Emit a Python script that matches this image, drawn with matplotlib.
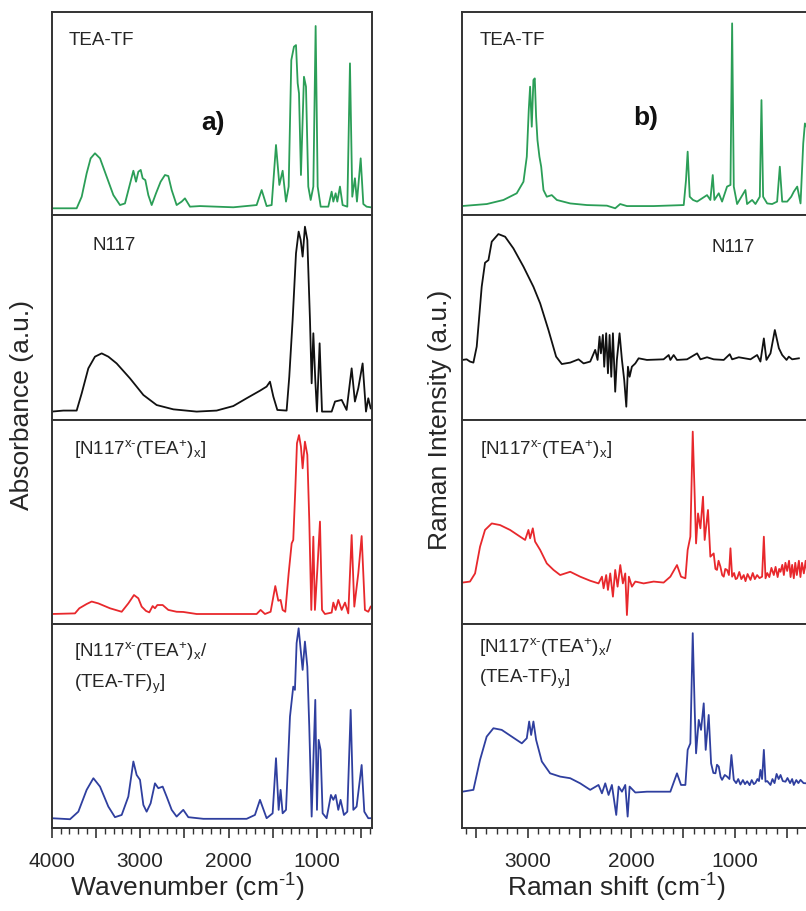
import matplotlib
matplotlib.use("Agg")
import matplotlib.pyplot as plt
from matplotlib.ticker import MultipleLocator, FuncFormatter

plt.rcParams["font.family"] = ["Liberation Sans", "DejaVu Sans"]
plt.rcParams["mathtext.fontset"] = "custom"
plt.rcParams["mathtext.rm"] = "Liberation Sans"
plt.rcParams["mathtext.it"] = "Liberation Sans"
plt.rcParams["mathtext.bf"] = "Liberation Sans:bold"

# ---------------- FTIR spectra (wavenumber, absorbance a.u.) ----------------
ir_tea_tf_wn = [4000, 3718, 3661, 3605, 3560, 3511, 3454, 3379, 3303, 3228, 3172, 3123, 3077, 3047,
                3021, 2994, 2972, 2942, 2908, 2870, 2821, 2769, 2720, 2682, 2644, 2588, 2531, 2494,
                2437, 2324, 1947, 1684, 1627, 1571, 1514, 1465, 1427, 1390, 1352, 1322, 1292, 1262,
                1239, 1220, 1205, 1183, 1149, 1126, 1100, 1073, 1043, 1017, 994, 960, 874, 836, 817,
                791, 772, 742, 712, 659, 629, 603, 573, 550, 508, 478, 441, 395]
ir_tea_tf_abs = [3.3, 3.3, 9.0, 20.5, 27.9, 30.4, 27.9, 18.9, 9.8, 4.9, 5.7, 14.0, 21.8, 16.4,
                 21.3, 22.2, 18.1, 17.2, 9.8, 4.9, 10.7, 16.4, 19.7, 19.2, 12.3, 4.9, 6.6, 8.2,
                 4.1, 4.4, 3.8, 4.9, 12.3, 4.4, 4.9, 34.5, 14.8, 21.8, 6.6, 14.0, 76.3, 82.9,
                 83.7, 64.9, 59.9, 19.7, 68.1, 63.2, 14.0, 7.4, 14.0, 93.1, 14.0, 4.1, 4.1, 11.5, 6.6,
                 10.7, 6.6, 14.0, 4.9, 4.1, 74.7, 9.0, 18.1, 6.6, 27.9, 5.4, 4.1, 3.8]

ir_n117_wn = [4000, 3868, 3718, 3661, 3586, 3511, 3435, 3360, 3266, 3115, 2964, 2814, 2625, 2362,
              2136, 1948, 1797, 1646, 1571, 1533, 1495, 1450, 1345, 1315, 1277, 1239, 1209, 1186,
              1164, 1138, 1111, 1081, 1062, 1043, 1021, 1002, 972, 945, 836, 798, 723, 667, 610,
              573, 535, 486, 448, 422, 395]
ir_n117_abs = [4.1, 4.6, 4.6, 13.0, 25.2, 30.9, 32.5, 30.9, 27.6, 20.3, 12.2, 7.3, 5.2, 4.1,
               4.6, 6.8, 10.6, 14.3, 16.3, 18.7, 11.4, 4.9, 4.6, 21.1, 48.8, 81.3, 91.9, 87.8,
               79.7, 94.3, 87.8, 48.8, 17.9, 42.3, 19.5, 4.1, 37.4, 4.1, 4.1, 9.0, 9.8, 4.9, 25.2,
               9.0, 15.5, 27.6, 4.1, 10.6, 5.7]

ir_salt_wn = [4000, 3737, 3688, 3605, 3548, 3473, 3341, 3209, 3134, 3070, 3021, 2983, 2934, 2897,
              2859, 2833, 2806, 2746, 2682, 2588, 2513, 2362, 1684, 1639, 1590, 1526, 1473, 1439,
              1413, 1390, 1360, 1322, 1288, 1270, 1247, 1228, 1205, 1183, 1164, 1138, 1111, 1089,
              1066, 1043, 1025, 998, 968, 945, 912, 836, 817, 791, 761, 723, 685, 648, 610, 580,
              535, 497, 460, 422, 395]
ir_salt_abs = [4.9, 5.2, 7.7, 9.8, 11.0, 10.1, 7.7, 6.0, 10.1, 14.2, 12.6, 8.5, 6.4, 5.7,
               8.8, 7.7, 9.3, 9.3, 6.9, 6.0, 5.9, 4.9, 4.9, 6.9, 4.9, 6.0, 18.6, 11.4,
               11.8, 6.9, 6.0, 24.8, 39.5, 41.2, 65.7, 88.6, 92.6, 86.9, 76.3, 89.4, 82.9, 51.0,
               6.9, 42.8, 6.9, 26.5, 50.2, 6.9, 4.9, 5.6, 10.5, 6.9, 11.8, 6.9, 10.5, 5.2, 43.6, 8.5,
               24.8, 43.1, 6.9, 6.0, 8.5]

ir_blend_wn = [4000, 3793, 3699, 3605, 3529, 3454, 3360, 3285, 3209, 3134, 3077, 3040, 3002, 2964,
               2927, 2882, 2833, 2795, 2746, 2701, 2644, 2588, 2513, 2456, 2286, 1797, 1703, 1646,
               1571, 1503, 1465, 1435, 1413, 1390, 1352, 1307, 1270, 1251, 1232, 1209, 1186, 1164,
               1138, 1111, 1089, 1062, 1040, 1021, 1002, 983, 961, 938, 893, 844, 817, 791, 761,
               735, 697, 659, 621, 591, 554, 497, 467, 422, 395]
ir_blend_abs = [4.8, 4.3, 8.0, 18.7, 24.4, 20.3, 10.5, 5.3, 6.4, 15.4, 32.6, 26.0, 23.6, 11.3,
                8.0, 12.1, 21.9, 19.5, 20.3, 15.4, 8.9, 5.6, 8.9, 5.3, 4.5, 4.5, 6.4, 13.8,
                4.8, 7.2, 34.2, 8.9, 18.7, 7.2, 8.9, 54.6, 69.3, 67.7, 90.6, 97.9, 87.3, 77.5,
                91.4, 79.1, 49.7, 5.6, 36.6, 62.8, 8.9, 43.2, 38.3, 7.2, 4.8, 16.2, 13.8, 16.2, 8.9,
                13.8, 6.4, 8.0, 57.9, 8.9, 10.5, 30.9, 8.0, 4.8, 4.8]

# ---------------- Raman spectra (Raman shift, intensity a.u.) ----------------
ra_tea_tf_wn = [3638, 3396, 3235, 3107, 3042, 3010, 2991, 2978, 2962, 2946, 2933, 2920, 2907, 2888,
                2871, 2849, 2817, 2769, 2720, 2591, 2430, 2237, 2157, 2109, 2044, 1786, 1496, 1474,
                1458, 1438, 1406, 1367, 1319, 1271, 1239, 1216, 1200, 1158, 1126, 1078, 1045, 1029,
                1013, 981, 901, 885, 836, 804, 762, 746, 730, 691, 643, 595, 569, 546, 498, 459,
                434, 401, 369, 343, 327, 311, 290]
ra_tea_tf_int = [4.4, 5.4, 7.4, 10.7, 16.4, 28.7, 51.7, 63.2, 43.5, 66.5, 67.3, 48.4, 36.9, 28.7,
                 23.8, 12.3, 9.0, 9.8, 7.4, 5.7, 4.9, 4.6, 3.3, 5.4, 4.4, 4.4, 4.9, 17.2,
                 31.2, 9.0, 7.4, 6.6, 8.2, 9.8, 7.4, 19.7, 7.4, 10.7, 6.6, 14.0, 14.8, 94.4,
                 14.0, 5.4, 12.3, 5.4, 7.4, 5.4, 9.0, 56.6, 9.0, 5.7, 5.4, 6.6, 23.8, 6.6, 6.6, 9.0,
                 11.5, 14.0, 5.7, 35.3, 45.1, 43.5, 40.0]

ra_n117_wn = [3632, 3590, 3558, 3525, 3493, 3445, 3413, 3380, 3348, 3284, 3219, 3139, 3042, 2946,
              2881, 2801, 2727, 2672, 2591, 2511, 2462, 2398, 2350, 2327, 2308, 2295, 2276, 2263,
              2244, 2227, 2211, 2195, 2179, 2157, 2141, 2115, 2092, 2070, 2050, 2034, 2018, 1996,
              1963, 1931, 1851, 1690, 1641, 1625, 1593, 1561, 1464, 1367, 1335, 1271, 1207, 1110,
              1052, 1029, 965, 852, 788, 756, 723, 698, 659, 617, 578, 546, 504, 482, 450, 385]
ra_n117_int = [29.3, 29.6, 28.5, 28.0, 35.8, 65.0, 76.7, 78.0, 87.0, 90.7, 89.4, 83.7, 74.8, 65.0,
               56.9, 43.9, 30.9, 27.3, 28.0, 29.6, 27.6, 28.5, 34.2, 29.3, 40.7, 32.5, 41.5, 26.0,
               42.3, 22.8, 41.5, 21.1, 42.3, 13.8, 29.3, 42.3, 29.3, 19.5, 6.5, 26.0, 21.1, 26.0,
               27.6, 30.1, 29.3, 29.6, 31.7, 29.3, 31.7, 29.3, 29.6, 32.5, 29.6, 30.6, 29.6, 29.3,
               32.1, 29.6, 30.6, 29.6, 31.7, 28.5, 39.8, 29.3, 32.5, 43.9, 35.0, 31.7, 29.3, 30.9,
               29.6, 30.1]

ra_salt_wn = [3632, 3558, 3509, 3461, 3413, 3348, 3268, 3171, 3074, 3026, 2994, 2978, 2952, 2930,
              2881, 2817, 2752, 2688, 2591, 2495, 2398, 2318, 2285, 2269, 2244, 2227, 2205, 2179,
              2157, 2134, 2108, 2083, 2060, 2044, 2025, 1996, 1963, 1883, 1786, 1690, 1625, 1561,
              1522, 1480, 1458, 1432, 1409, 1390, 1377, 1358, 1335, 1310, 1294, 1262, 1239, 1207,
              1190, 1175, 1160, 1142, 1125, 1110, 1095, 1078, 1060, 1045, 1029, 1010, 995, 981,
              960, 940, 917, 900, 880, 852, 830, 810, 788, 765, 740, 723, 707, 690, 670, 650,
              627, 610, 590, 575, 562, 545, 530, 515, 498, 480, 465, 450, 434, 420, 405, 385,
              370, 355, 337, 320, 305, 290]
ra_salt_int = [20.3, 20.8, 24.8, 37.9, 46.1, 49.3, 48.5, 46.1, 42.8, 41.2, 46.1, 42.0, 46.9, 40.4,
               36.3, 29.7, 26.5, 24.0, 25.6, 23.2, 21.2, 19.9, 23.2, 17.5, 24.0, 16.7, 24.8, 13.4,
               26.5, 18.3, 28.9, 19.9, 24.8, 4.4, 23.2, 18.3, 20.8, 19.9, 20.8, 20.3, 23.2, 28.9,
               23.2, 22.4, 36.3, 42.8, 94.3, 62.4, 39.5, 54.2, 46.9, 62.4, 41.2, 55.9, 33.0, 34.6,
               27.0, 26.5, 31.0, 28.1, 24.0, 23.2, 27.0, 26.5, 24.0, 37.1, 23.2, 25.0, 22.0, 22.4,
               25.5, 22.0, 24.0, 21.0, 24.5, 21.6, 25.0, 22.0, 24.0, 22.5, 23.2, 42.8, 22.4, 25.0,
               23.0, 27.5, 24.0, 28.0, 23.0, 27.0, 25.6, 29.0, 24.0, 30.0, 26.0, 31.0, 23.0, 29.0,
               22.4, 30.0, 24.0, 31.0, 23.0, 30.0, 24.8, 31.0, 25.0, 28.0]

ra_blend_wn = [3632, 3525, 3461, 3397, 3332, 3252, 3155, 3058, 3010, 2987, 2968, 2946, 2920, 2865,
               2785, 2688, 2591, 2495, 2398, 2318, 2285, 2253, 2221, 2189, 2147, 2124, 2092, 2060,
               2037, 2018, 1963, 1851, 1625, 1561, 1522, 1480, 1458, 1432, 1409, 1390, 1377, 1351,
               1329, 1303, 1284, 1255, 1232, 1210, 1190, 1175, 1158, 1140, 1126, 1100, 1078, 1055,
               1036, 1013, 990, 970, 949, 925, 905, 884, 860, 840, 820, 804, 785, 770, 756, 740,
               723, 707, 690, 659, 640, 620, 600, 580, 562, 540, 514, 495, 470, 450, 434, 410,
               390, 369, 340, 311, 290]
ra_blend_int = [17.8, 18.7, 33.4, 44.8, 48.9, 48.1, 44.8, 41.5, 44.0, 52.2, 45.6, 52.2, 43.2, 32.6,
                26.8, 25.2, 24.4, 21.9, 18.7, 21.1, 17.0, 21.9, 16.2, 21.1, 6.4, 20.3, 17.8, 21.1,
                5.6, 20.3, 17.4, 17.8, 17.8, 26.8, 21.1, 21.1, 38.3, 41.5, 95.5, 57.9, 36.6, 53.0,
                48.1, 61.1, 38.3, 55.4, 31.7, 27.0, 26.8, 31.0, 30.1, 25.0, 23.6, 26.0, 25.2, 24.0,
                35.8, 23.6, 22.0, 24.0, 21.3, 23.5, 21.5, 22.9, 21.0, 23.5, 21.5, 22.1, 24.0, 23.0,
                28.5, 24.0, 38.3, 22.7, 23.0, 21.1, 24.0, 22.0, 26.5, 24.0, 26.0, 23.0, 22.7, 24.5,
                22.0, 24.0, 21.1, 23.5, 22.0, 23.6, 22.0, 21.9, 22.5]

GREEN = "#2b9e57"
BLACK = "#111111"
RED = "#e8282c"
BLUE = "#2f3f9f"
TXT = "#262626"

ir_sets = [(ir_tea_tf_wn, ir_tea_tf_abs, GREEN), (ir_n117_wn, ir_n117_abs, BLACK),
           (ir_salt_wn, ir_salt_abs, RED), (ir_blend_wn, ir_blend_abs, BLUE)]
ra_sets = [(ra_tea_tf_wn, ra_tea_tf_int, GREEN), (ra_n117_wn, ra_n117_int, BLACK),
           (ra_salt_wn, ra_salt_int, RED), (ra_blend_wn, ra_blend_int, BLUE)]

W, H = 806, 911
fig = plt.figure(figsize=(W / 100, H / 100), dpi=100)

# panel frames in pixel rows (top, bottom)
rows = [(12, 215), (215, 420), (420, 624), (624, 828)]
left_cols = (51.7, 372.0)
right_cols = (462.0, 830.5)


def make_axes(cols, top, bottom):
    x0, x1 = cols
    return fig.add_axes([x0 / W, (H - bottom) / H, (x1 - x0) / W, (bottom - top) / H])


def style(ax, xlim, bottom_row):
    ax.set_xlim(*xlim)
    ax.set_ylim(0, 100)
    ax.set_yticks([])
    for s in ax.spines.values():
        s.set_color("#333333")
        s.set_linewidth(1.4)
    if bottom_row:
        ax.xaxis.set_major_locator(MultipleLocator(500))
        ax.xaxis.set_minor_locator(MultipleLocator(100))
        ax.xaxis.set_major_formatter(
            FuncFormatter(lambda v, p: f"{int(v)}" if int(round(v)) % 1000 == 0 else ""))
        ax.tick_params(axis="x", which="major", direction="out", length=7, width=1.2,
                       colors="#333333", labelsize=15, labelcolor=TXT, pad=10)
        ax.tick_params(axis="x", which="minor", direction="out", length=4, width=1.0,
                       colors="#333333")
    else:
        ax.set_xticks([])


ir_axes, ra_axes = [], []
for i, (top, bottom) in enumerate(rows):
    axl = make_axes(left_cols, top, bottom)
    wn, y, c = ir_sets[i]
    axl.plot(wn, y, color=c, lw=1.3)
    style(axl, (4000, 380), i == 3)
    ir_axes.append(axl)

    axr = make_axes(right_cols, top, bottom)
    wn, y, c = ra_sets[i]
    axr.plot(wn, y, color=c, lw=1.3)
    style(axr, (3635, 80), i == 3)
    ra_axes.append(axr)

lab = dict(fontsize=13.5, color=TXT, va="baseline", ha="left")
salt = r"$\mathregular{[N117^{x\text{-}}(TEA^{+})_{x}]}$"
blend1 = r"$\mathregular{[N117^{x\text{-}}(TEA^{+})_{x}/}$"
blend2 = r"$\mathregular{(TEA\text{-}TF)_{y}]}$"

ir_axes[0].text(0.054, 0.835, "TEA-TF", transform=ir_axes[0].transAxes, **lab)
ir_axes[0].text(0.504, 0.453, "a)", transform=ir_axes[0].transAxes, fontsize=19,
                fontweight="bold", ha="center", va="center", color="#111111")
ir_axes[1].text(0.126, 0.829, "N117", transform=ir_axes[1].transAxes, **lab)
ir_axes[2].text(0.070, 0.828, salt, transform=ir_axes[2].transAxes, **lab)
ir_axes[3].text(0.070, 0.838, blend1, transform=ir_axes[3].transAxes, **lab)
ir_axes[3].text(0.070, 0.686, blend2, transform=ir_axes[3].transAxes, **lab)

ra_axes[0].text(0.049, 0.835, "TEA-TF", transform=ra_axes[0].transAxes, **lab)
ra_axes[0].text(0.499, 0.478, "b)", transform=ra_axes[0].transAxes, fontsize=19,
                fontweight="bold", ha="center", va="center", color="#111111")
ra_axes[1].text(0.678, 0.820, "N117", transform=ra_axes[1].transAxes, **lab)
ra_axes[2].text(0.049, 0.828, salt, transform=ra_axes[2].transAxes, **lab)
ra_axes[3].text(0.046, 0.858, blend1, transform=ra_axes[3].transAxes, **lab)
ra_axes[3].text(0.046, 0.711, blend2, transform=ra_axes[3].transAxes, **lab)

fig.text(22 / W, 1 - 405 / H, "Absorbance (a.u.)", rotation=90, ha="center", va="center",
         fontsize=19, color=TXT)
fig.text(440 / W, 1 - 420 / H, "Raman Intensity (a.u.)", rotation=90, ha="center",
         va="center", fontsize=19, color=TXT)
fig.text(187 / W, 1 - 888 / H, r"Wavenumber (cm$^{\mathregular{\text{-}1}}$)", ha="center",
         va="center", fontsize=19, color=TXT)
fig.text(616 / W, 1 - 888 / H, r"Raman shift (cm$^{\mathregular{\text{-}1}}$)", ha="center",
         va="center", fontsize=19, color=TXT)

fig.savefig("out.png", dpi=100, facecolor="white")
